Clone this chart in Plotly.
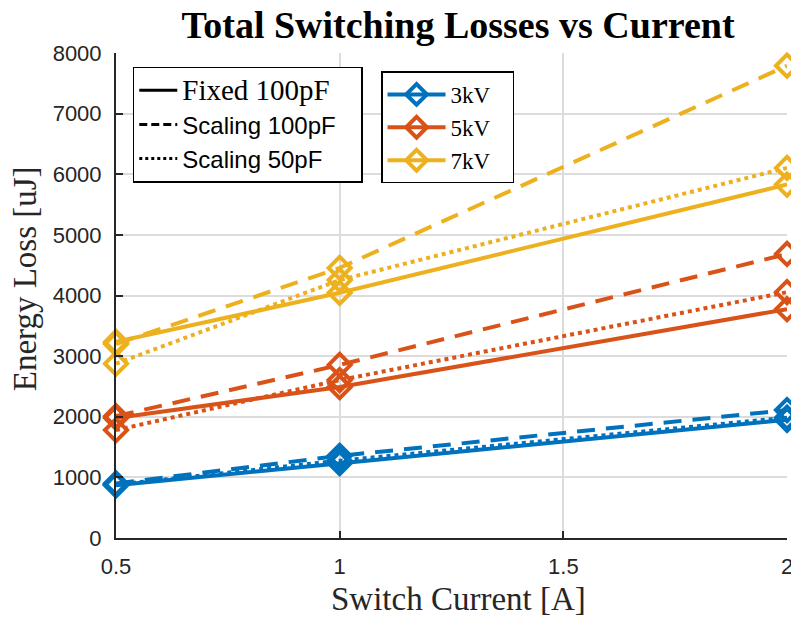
import plotly.graph_objects as go

current = [0.5, 1.0, 2.0]

fixed_3kv = [870, 1235, 1950]
scal100_3kv = [900, 1355, 2110]
scal50_3kv = [880, 1275, 1985]

fixed_5kv = [1980, 2490, 3775]
scal100_5kv = [2010, 2855, 4685]
scal50_5kv = [1780, 2605, 4055]

fixed_7kv = [3235, 4045, 5830]
scal100_7kv = [3200, 4455, 7790]
scal50_7kv = [2875, 4255, 6105]

voltages = ["3kV", "5kV", "7kV"]
style_names = ["Fixed 100pF", "Scaling 100pF", "Scaling 50pF"]
x_ticks = [0.5, 1, 1.5, 2]
x_ticklabels = ["0.5", "1", "1.5", "2"]
y_ticks = [0, 1000, 2000, 3000, 4000, 5000, 6000, 7000, 8000]

colors = {"3kV": "#0072BD", "5kV": "#D95319", "7kV": "#EDB120"}
series = {
    "3kV": [fixed_3kv, scal100_3kv, scal50_3kv],
    "5kV": [fixed_5kv, scal100_5kv, scal50_5kv],
    "7kV": [fixed_7kv, scal100_7kv, scal50_7kv],
}
dashes = ["solid", "18px,11px", "4px,4px"]
legend_dashes = ["solid", "8px,4px", "3px,3px"]

SERIF = "Liberation Serif, Times New Roman, serif"
SANS = "Liberation Sans, Arial, Helvetica, sans-serif"
AXC = "#262626"
PAD = "\u00a0\u00a0\u00a0"

fig = go.Figure()


def marker_kw(c):
    return dict(symbol="diamond-open", size=17, color=c, line=dict(width=4, color=c))


for v in voltages:
    c = colors[v]
    for ys, d in zip(series[v], dashes):
        fig.add_trace(go.Scatter(
            x=current, y=ys, mode="lines+markers",
            line=dict(color=c, width=4, dash=d),
            marker=marker_kw(c), showlegend=False, cliponaxis=False,
        ))

# Legend 1: line styles
for i, (name, d) in enumerate(zip(style_names, legend_dashes)):
    if i == 0:
        label = "<span style='font-family:Liberation Serif;font-size:29px'>" + name + "</span>" + PAD
    else:
        label = name + PAD
    fig.add_trace(go.Scatter(
        x=[None], y=[None], mode="lines", name=label,
        line=dict(color="black", width=3, dash=d), legend="legend",
    ))

# Legend 2: voltages
for v in voltages:
    c = colors[v]
    fig.add_trace(go.Scatter(
        x=[None], y=[None], mode="lines+markers", name=v + PAD,
        line=dict(color=c, width=4), marker=marker_kw(c), legend="legend2",
    ))

fig.update_layout(
    width=791, height=620,
    margin=dict(l=116, r=4, t=53, b=82, autoexpand=False),
    paper_bgcolor="white", plot_bgcolor="white",
    title=dict(text="<b>Total Switching Losses vs Current</b>",
               font=dict(family=SERIF, size=38, color="black"),
               x=458 / 791, xref="container", xanchor="center",
               y=1 - 25 / 620, yref="container", yanchor="middle"),
    xaxis=dict(range=[0.5, 2], tickvals=x_ticks, ticktext=x_ticklabels,
               showgrid=True, gridcolor="#dcdcdc", gridwidth=1.5,
               showline=True, linecolor=AXC, linewidth=2,
               ticks="inside", ticklen=7, tickwidth=1.5, tickcolor=AXC,
               tickfont=dict(family=SANS, size=22, color=AXC),
               ticklabelstandoff=8, ticklabeloverflow="allow", automargin=False,
               zeroline=False, mirror=False),
    yaxis=dict(range=[0, 8000], tickvals=y_ticks,
               showgrid=True, gridcolor="#dcdcdc", gridwidth=1.5,
               showline=True, linecolor=AXC, linewidth=2,
               ticks="inside", ticklen=7, tickwidth=1.5, tickcolor=AXC,
               tickfont=dict(family=SANS, size=22, color=AXC),
               ticklabelstandoff=8, ticklabeloverflow="allow", automargin=False,
               zeroline=False, mirror=False),
    legend=dict(x=0.025, y=0.972, xanchor="left", yanchor="top",
                bgcolor="white", bordercolor="black", borderwidth=1.5,
                font=dict(family=SANS, size=24, color="black"),
                tracegroupgap=0, itemwidth=38),
    legend2=dict(x=0.395, y=0.962, xanchor="left", yanchor="top",
                 bgcolor="white", bordercolor="black", borderwidth=1.5,
                 font=dict(family=SERIF, size=23, color="black"),
                 tracegroupgap=0, itemwidth=58),
    annotations=[
        dict(text="Energy Loss [uJ]", textangle=-90,
             xref="paper", yref="paper", x=-0.136, y=0.535,
             xanchor="center", yanchor="middle", showarrow=False,
             font=dict(family=SERIF, size=33, color=AXC)),
        dict(text="Switch Current [A]",
             xref="paper", yref="paper", x=(458 - 116) / 671, y=-(599 - 538) / 485,
             xanchor="center", yanchor="middle", showarrow=False,
             font=dict(family=SERIF, size=33, color=AXC)),
    ],
)

fig.write_html("out.html")
